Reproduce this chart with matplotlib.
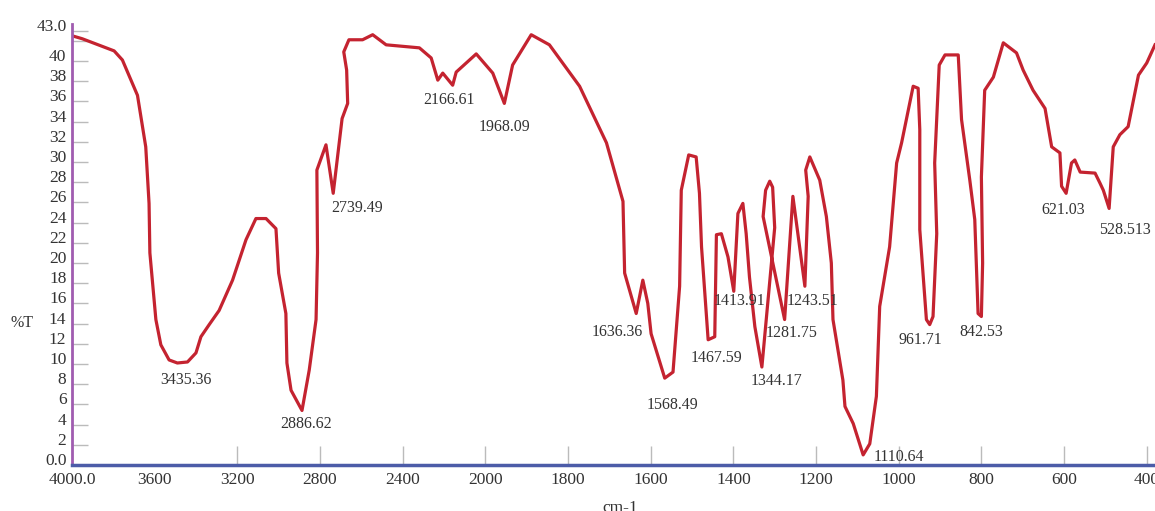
import numpy as np
from matplotlib import pyplot as plt

plt.rcParams["font.family"] = ["Liberation Serif", "DejaVu Serif"]

# spectrum (wavenumber cm-1, %T)
wavenumber = [4000, 3950, 3796, 3756, 3683, 3643, 3627, 3623, 3594, 3570,
              3530, 3490, 3441, 3400, 3376, 3336, 3288, 3223, 3158, 3110,
              3061, 3013, 3000, 2965, 2960, 2940, 2887, 2852, 2819, 2812,
              2815, 2771, 2736, 2693, 2666, 2671, 2685, 2660, 2594, 2545,
              2480, 2319, 2262, 2230, 2206, 2158, 2141, 2044, 1982, 1954,
              1934, 1889, 1845, 1772, 1707, 1667, 1663, 1635, 1619, 1607,
              1599, 1566, 1546, 1530, 1526, 1508, 1490, 1482, 1477, 1461,
              1445, 1441, 1429, 1413, 1399, 1389, 1377, 1369, 1361, 1348,
              1331, 1300, 1305, 1312, 1322, 1328, 1276, 1256, 1227, 1219,
              1225, 1215, 1191, 1175, 1163, 1159, 1135, 1130, 1110, 1086,
              1070, 1054, 1046, 1022, 1005, 993, 965, 953, 949, 949,
              933, 925, 917, 908, 913, 902, 888, 856, 848, 828,
              816, 808, 800, 797, 800, 792, 771, 747, 715, 699,
              675, 646, 630, 610, 606, 595, 582, 574, 561, 525,
              513, 505, 491, 481, 465, 445, 420, 400, 380]
transmittance = [42.5, 42.2, 41.0, 40.1, 36.6, 31.5, 25.9, 21.0, 14.4, 11.9,
                 10.4, 10.1, 10.2, 11.1, 12.7, 13.9, 15.3, 18.3, 22.3, 24.4,
                 24.4, 23.4, 19.0, 15.0, 10.1, 7.4, 5.4, 9.4, 14.4, 21.0,
                 29.2, 31.7, 26.9, 34.3, 35.8, 39.1, 40.9, 42.1, 42.1, 42.6,
                 41.6, 41.3, 40.3, 38.1, 38.8, 37.6, 38.9, 40.7, 38.8, 35.8,
                 39.6, 42.6, 41.6, 37.5, 31.9, 26.1, 19.0, 15.0, 18.3, 16.0,
                 13.0, 8.6, 9.2, 17.7, 27.2, 30.7, 30.5, 26.9, 21.6, 12.4,
                 12.7, 22.8, 22.9, 20.6, 17.2, 24.9, 25.9, 22.9, 18.6, 13.7,
                 9.7, 23.5, 27.5, 28.1, 27.2, 24.6, 14.4, 26.6, 17.7, 26.6,
                 29.2, 30.5, 28.2, 24.6, 20.0, 14.4, 8.4, 5.8, 4.1, 1.0,
                 2.1, 6.8, 15.7, 21.6, 29.9, 31.9, 37.5, 37.3, 33.2, 23.3,
                 14.4, 13.9, 14.7, 22.9, 29.9, 39.6, 40.6, 40.6, 34.2, 28.2,
                 24.3, 15.0, 14.7, 20.0, 28.5, 37.1, 38.4, 41.8, 40.8, 39.1,
                 37.1, 35.3, 31.5, 30.9, 27.6, 26.9, 29.9, 30.2, 29.0, 28.9,
                 27.9, 27.2, 25.4, 31.5, 32.7, 33.5, 38.6, 39.8, 41.6]

peak_labels = ["3435.36", "2886.62", "2739.49", "2166.61", "1968.09", "1636.36",
               "1568.49", "1467.59", "1413.91", "1344.17", "1281.75", "1243.51",
               "1110.64", "961.71", "842.53", "621.03", "528.513"]
label_x = [3450, 2866, 2619, 2174, 1954, 1681, 1548, 1441, 1385, 1295, 1259, 1208,
           999, 947, 800, 602, 453]
label_y = [8.4, 4.1, 25.4, 36.1, 33.5, 13.2, 5.9, 10.6, 16.2, 8.3, 13.1, 16.2,
           0.8, 12.4, 13.2, 25.2, 23.3]

x_ticks = [4000, 3600, 3200, 2800, 2400, 2000, 1800, 1600, 1400, 1200, 1000, 800, 600, 400]
x_ticklabels = ["4000.0"] + [str(v) for v in x_ticks[1:]]
y_ticks = list(range(0, 41, 2)) + [42, 43]
y_ticklabels = ["0.0"] + [str(v) for v in range(2, 41, 2)] + ["", "43.0"]


# half scale above 2000 cm-1
def fwd(x):
    x = np.asarray(x, dtype=float)
    return np.where(x > 2000, 2000 + (x - 2000) / 2, x)


def inv(t):
    t = np.asarray(t, dtype=float)
    return np.where(t > 2000, 2000 + 2 * (t - 2000), t)


fig = plt.figure(figsize=(11.55, 5.11), dpi=100)
ax = fig.add_axes([0.0623, 0.090, 0.9377, 0.8638])
ax.set_xscale("function", functions=(fwd, inv))
ax.plot(wavenumber, transmittance, color="#c42330", lw=2.3, solid_joinstyle="round")
ax.set_xlim(4000, 380)
ax.set_ylim(0, 43.7)

for s in ["top", "right"]:
    ax.spines[s].set_visible(False)
ax.spines["left"].set_color("#a05cb0")
ax.spines["left"].set_linewidth(2)
ax.spines["bottom"].set_color("#4c5ca8")
ax.spines["bottom"].set_linewidth(2.5)

ax.set_xticks(x_ticks)
ax.set_xticklabels(x_ticklabels)
ax.set_yticks(y_ticks)
ax.set_yticklabels(y_ticklabels, va="baseline")
ax.xaxis.set_minor_locator(plt.NullLocator())
ax.tick_params(axis="x", direction="in", length=14, width=1, color="#bbbbbb",
               labelsize=12.5, labelcolor="#333333", pad=5)
ax.tick_params(axis="y", direction="in", length=11.5, width=1, color="#bbbbbb",
               labelsize=12.5, labelcolor="#333333", pad=4)
for t in ax.xaxis.get_major_ticks()[:2]:
    t.tick1line.set_visible(False)

for lab, lx, ly in zip(peak_labels, label_x, label_y):
    ax.text(lx, ly, lab, fontsize=11.5, color="#333333", ha="center", va="center")

fig.text(22 / 1155, 188 / 511, "%T", fontsize=11.5, color="#333333", ha="center", va="center")
fig.text(620 / 1155, 3 / 511, "cm-1", fontsize=12.5, color="#333333", ha="center", va="center")

plt.savefig("out.png", dpi=100)
plt.close()
